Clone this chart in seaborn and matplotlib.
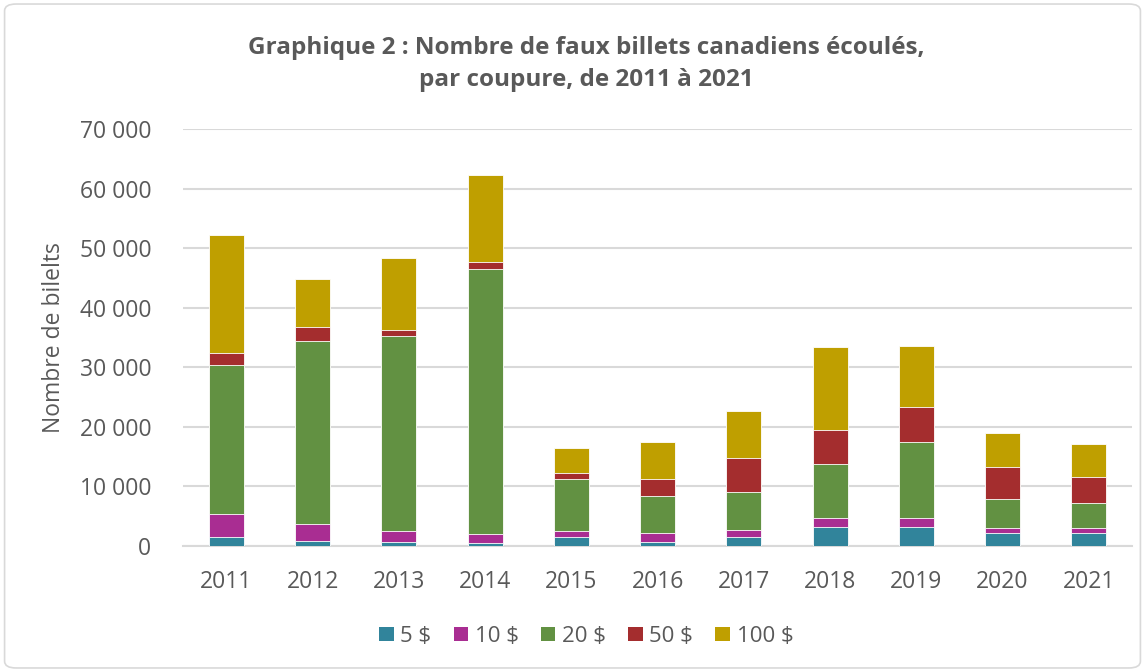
import matplotlib
matplotlib.use("Agg")
import matplotlib.pyplot as plt
from matplotlib.patches import FancyBboxPatch, Patch
from matplotlib.ticker import FuncFormatter
import numpy as np
import pandas as pd
import seaborn as sns

# Counterfeit notes passed, by denomination
years = ["2011", "2012", "2013", "2014", "2015", "2016", "2017", "2018", "2019", "2020", "2021"]
d5 = [1500, 850, 600, 500, 1500, 750, 1500, 3200, 3200, 2100, 2100]
d10 = [3900, 2900, 1900, 1450, 1000, 1400, 1200, 1550, 1550, 950, 1000]
d20 = [25000, 30700, 32800, 44500, 8700, 6300, 6300, 9050, 12750, 4900, 4100]
d50 = [2050, 2300, 950, 1150, 1050, 2800, 5750, 5750, 5850, 5300, 4350]
d100 = [19700, 8100, 12100, 14700, 4150, 6200, 7950, 13800, 10300, 5650, 5550]
labels = ["5 $", "10 $", "20 $", "50 $", "100 $"]
colors = ["#31849B", "#A92D92", "#629142", "#A42D2E", "#BF9F00"]

sns.set_theme(style="white")
plt.rcParams["font.family"] = ["Open Sans", "DejaVu Sans"]
TXT = "#595959"

series = [d5, d10, d20, d50, d100]
cum = np.cumsum(np.array(series), axis=0)
df = pd.DataFrame({"year": years})
for lab, c in zip(labels, cum):
    df[lab] = c

fig = plt.figure(figsize=(11.45, 6.72), dpi=100)
ax = fig.add_axes([0.160, 0.1875, 0.8286, 0.6205])

# stacked bars: draw cumulative totals from the top segment down
for lab, col in reversed(list(zip(labels, colors))):
    sns.barplot(data=df, x="year", y=lab, color=col, width=0.405,
                edgecolor="#ffffff", linewidth=0.6, saturation=1, ax=ax, zorder=3)

ax.set_ylim(0, 70000)
ax.set_yticks(np.arange(0, 70001, 10000))
ax.yaxis.set_major_formatter(FuncFormatter(lambda v, p: f"{int(v):,}".replace(",", " ")))
ax.grid(axis="y", color="#d9d9d9", linewidth=1.5, zorder=0)
ax.set_axisbelow(True)
for s in ["top", "right", "left"]:
    ax.spines[s].set_visible(False)
ax.spines["bottom"].set_color("#d9d9d9")
ax.spines["bottom"].set_linewidth(1.5)
ax.tick_params(axis="y", length=0, pad=23, labelsize=16.5, labelcolor=TXT)
ax.tick_params(axis="x", length=0, pad=17, labelsize=16.5, labelcolor=TXT)
ax.set_xlabel("")
ax.set_ylabel("Nombre de bilelts", fontsize=16.5, color=TXT, labelpad=10)

fig.text(0.512, 0.905, "Graphique 2 : Nombre de faux billets canadiens écoulés,\npar coupure, de 2011 à 2021",
         ha="center", va="center", fontsize=17.5, fontweight="bold", color=TXT, linespacing=1.45)

handles = [Patch(facecolor=c, edgecolor="none") for c in colors]
fig.legend(handles, labels, loc="center", bbox_to_anchor=(0.512, 0.053), ncol=5, frameon=False,
           fontsize=16, labelcolor=TXT, handlelength=0.65, handleheight=0.65, handletextpad=0.3,
           columnspacing=1.0)

border = FancyBboxPatch((0.004, 0.006), 0.992, 0.988, boxstyle="round,pad=0,rounding_size=0.01",
                        transform=fig.transFigure, facecolor="none", edgecolor="#d9d9d9", linewidth=1.2)
fig.patches.append(border)

fig.savefig("out.png", dpi=100)
